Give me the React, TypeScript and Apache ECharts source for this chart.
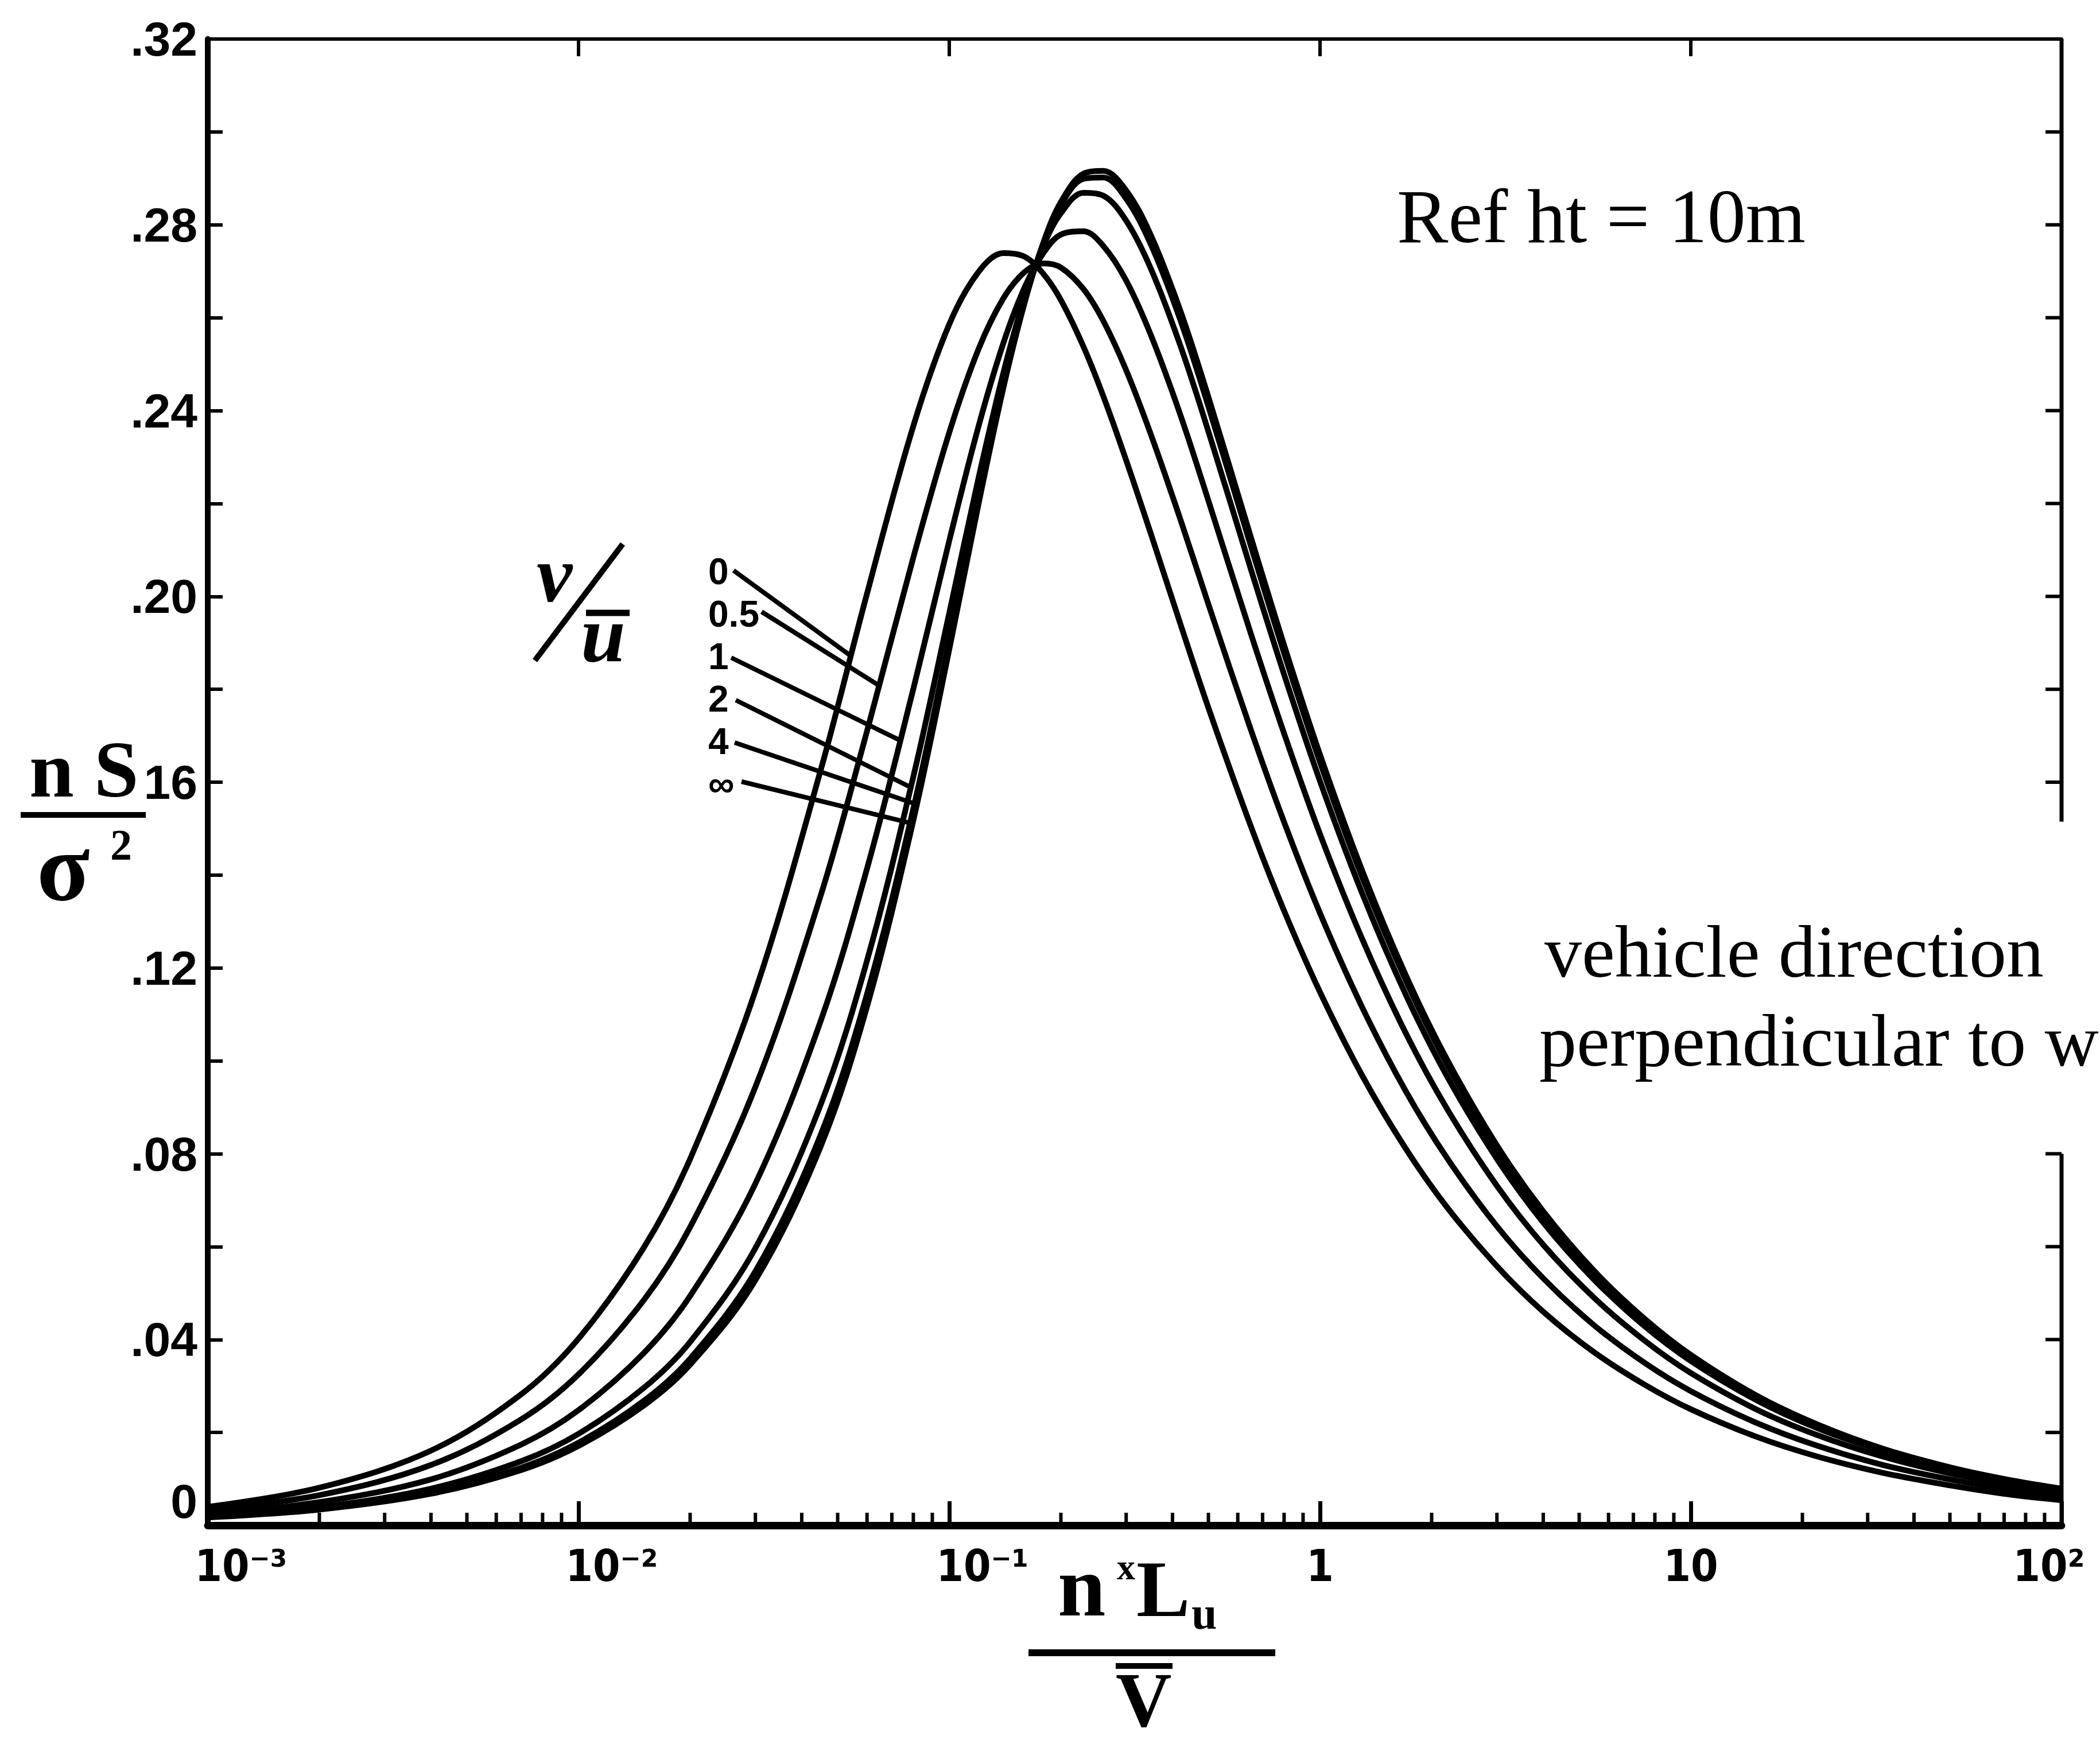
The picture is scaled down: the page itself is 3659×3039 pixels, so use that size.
import React, { useEffect, useRef } from 'react';
import * as echarts from 'echarts';

const WIDTH = 3659;
const HEIGHT = 3039;

// abscissa  n·xLu / V̄  (log scale) at which the curves were read
const freq = [0.001, 0.002, 0.004, 0.007, 0.01, 0.015, 0.02, 0.03, 0.045, 0.06, 0.08, 0.1, 0.12, 0.14, 0.16, 0.18, 0.2, 0.23, 0.26, 0.3, 0.35, 0.42, 0.5, 0.65, 0.8, 1, 1.3, 1.7, 2.2, 3, 4, 5.5, 7.5, 10, 15, 22, 33, 50, 70, 100];

// nS/σ² for each v/u
const nS_v0 = [0.0040, 0.0081, 0.0161, 0.0282, 0.0402, 0.0598, 0.0789, 0.1151, 0.1626, 0.2006, 0.2367, 0.2586, 0.2699, 0.2739, 0.2731, 0.2693, 0.2638, 0.2538, 0.2432, 0.2293, 0.2134, 0.1941, 0.1760, 0.1506, 0.1323, 0.1148, 0.0968, 0.0812, 0.0685, 0.0558, 0.0460, 0.0372, 0.0303, 0.0250, 0.0191, 0.0148, 0.0113, 0.0086, 0.0068, 0.0054];
const nS_v05 = [0.0033, 0.0065, 0.0130, 0.0228, 0.0325, 0.0485, 0.0642, 0.0944, 0.1356, 0.1710, 0.2084, 0.2353, 0.2533, 0.2642, 0.2699, 0.2717, 0.2708, 0.2662, 0.2594, 0.2487, 0.2348, 0.2166, 0.1983, 0.1714, 0.1514, 0.1318, 0.1115, 0.0936, 0.0791, 0.0644, 0.0532, 0.0430, 0.0350, 0.0289, 0.0221, 0.0171, 0.0130, 0.0099, 0.0079, 0.0062];
const nS_v1 = [0.0025, 0.0050, 0.0099, 0.0174, 0.0248, 0.0371, 0.0494, 0.0736, 0.1086, 0.1414, 0.1801, 0.2120, 0.2367, 0.2546, 0.2667, 0.2741, 0.2779, 0.2786, 0.2755, 0.2680, 0.2562, 0.2391, 0.2206, 0.1921, 0.1705, 0.1488, 0.1262, 0.1061, 0.0897, 0.0731, 0.0604, 0.0489, 0.0398, 0.0328, 0.0250, 0.0194, 0.0148, 0.0112, 0.0090, 0.0071];
const nS_v2 = [0.0020, 0.0039, 0.0079, 0.0138, 0.0197, 0.0296, 0.0395, 0.0597, 0.0906, 0.1216, 0.1612, 0.1964, 0.2256, 0.2482, 0.2646, 0.2757, 0.2825, 0.2869, 0.2863, 0.2809, 0.2705, 0.2540, 0.2355, 0.2060, 0.1832, 0.1602, 0.1360, 0.1144, 0.0967, 0.0789, 0.0652, 0.0528, 0.0429, 0.0354, 0.0270, 0.0209, 0.0160, 0.0121, 0.0097, 0.0076];
const nS_v4 = [0.0018, 0.0036, 0.0071, 0.0124, 0.0178, 0.0268, 0.0359, 0.0547, 0.0841, 0.1144, 0.1543, 0.1908, 0.2216, 0.2458, 0.2638, 0.2763, 0.2843, 0.2899, 0.2902, 0.2856, 0.2757, 0.2595, 0.2409, 0.2110, 0.1878, 0.1643, 0.1395, 0.1175, 0.0993, 0.0810, 0.0669, 0.0542, 0.0441, 0.0363, 0.0277, 0.0215, 0.0164, 0.0124, 0.0099, 0.0078];
const nS_vInf = [0.0017, 0.0034, 0.0068, 0.0119, 0.0171, 0.0258, 0.0346, 0.0528, 0.0816, 0.1117, 0.1518, 0.1886, 0.2200, 0.2450, 0.2635, 0.2765, 0.2849, 0.2910, 0.2916, 0.2874, 0.2777, 0.2615, 0.2429, 0.2129, 0.1895, 0.1659, 0.1409, 0.1186, 0.1003, 0.0818, 0.0676, 0.0547, 0.0445, 0.0367, 0.0280, 0.0217, 0.0165, 0.0125, 0.0100, 0.0079];

const curveNames = ['0', '0.5', '1', '2', '4', '∞'];
const curveValues = [nS_v0, nS_v05, nS_v1, nS_v2, nS_v4, nS_vInf];

// where each leader line meets its curve  [f, nS/σ²]
const leaderEnds = [[0.0542, 0.1872], [0.0647, 0.1808], [0.0737, 0.169], [0.0787, 0.1589], [0.0805, 0.1554], [0.0796, 0.1511]];

const yTickLabels = ['0', '', '.04', '', '.08', '', '.12', '', '16', '', '.20', '', '.24', '', '.28', '', '.32'];
const xTickLabels = [['10', '⁻³'], ['10', '⁻²'], ['10', '⁻¹'], ['1', ''], ['10', ''], ['10', '²']];
const rightTicks = [0.02, 0.04, 0.06, 0.08, 0.16, 0.18, 0.2, 0.22, 0.24, 0.26, 0.28, 0.3];
const rightBorderSegments = [[0.32, 0.1515], [0.08, 0]];

const minorTicks: number[] = [];
for (let e = -3; e <= 1; e++) {
  for (let k = 2; k <= 9; k++) minorTicks.push(Number((k * Math.pow(10, e)).toPrecision(3)));
}

const SERIF = '"Liberation Serif", "Times New Roman", serif';
const SANS = '"Liberation Sans", Arial, sans-serif';
const NARROW = '"Liberation Sans Narrow", "DejaVu Sans Condensed", "Liberation Sans", sans-serif';

function txt(text: string, x: number, y: number, font: string, extra: any = {}) {
  return {
    type: 'text',
    x,
    y,
    z: 20,
    silent: true,
    ...extra,
    style: {
      text,
      font,
      fill: '#000',
      textAlign: 'left',
      textVerticalAlign: 'middle',
      align: 'left',
      verticalAlign: 'middle',
    },
  };
}

function seg(x1: number, y1: number, x2: number, y2: number, w: number) {
  return {
    type: 'line',
    z: 20,
    silent: true,
    shape: { x1, y1, x2, y2 },
    style: { stroke: '#000', lineWidth: w, lineCap: 'butt' },
  };
}

const App: React.FC = () => {
  const ref = useRef<HTMLDivElement>(null);

  useEffect(() => {
    const el = ref.current;
    if (!el) return;
    const chart = echarts.init(el, null, { renderer: 'svg', width: WIDTH, height: HEIGHT });

    const xFont = { fontFamily: NARROW, fontSize: 76, fontWeight: 'bold', color: '#000' };

    const option: any = {
      animation: false,
      backgroundColor: '#ffffff',
      grid: { left: 362, right: 67, top: 68, bottom: 381, containLabel: false, outerBoundsMode: 'none' },
      xAxis: [
        {
          type: 'log',
          logBase: 10,
          min: 0.001,
          max: 100,
          position: 'bottom',
          axisLine: { show: true, onZero: false, lineStyle: { color: '#000', width: 13 } },
          axisTick: { show: true, inside: true, length: 42, lineStyle: { color: '#000', width: 7 } },
          minorTick: { show: false },
          splitLine: { show: false },
          axisLabel: {
            show: true,
            showMinLabel: true,
            showMaxLabel: true,
            margin: 32,
            color: '#000',
            formatter: (val: number) => {
              const i = Math.round(Math.log10(val)) + 3;
              const lab = xTickLabels[i];
              if (!lab) return '';
              if (i === 5) return `{r|${lab[0]}${lab[1]}}`;
              if (lab[1]) return `{b|${lab[0]}}{e|${lab[1]}}`;
              return `{m|${lab[0]}}`;
            },
            rich: {
              b: { ...xFont, padding: [0, 0, 0, 116] },
              e: { ...xFont },
              m: { ...xFont },
              r: { ...xFont, padding: [0, 44, 0, 0] },
            },
          },
        },
        {
          type: 'log',
          logBase: 10,
          min: 0.001,
          max: 100,
          position: 'top',
          axisLine: { show: true, onZero: false, lineStyle: { color: '#000', width: 6 } },
          axisTick: { show: true, inside: true, length: 30, lineStyle: { color: '#000', width: 6 } },
          axisLabel: { show: false },
          splitLine: { show: false },
        },
      ],
      yAxis: [
        {
          type: 'value',
          min: 0,
          max: 0.32,
          interval: 0.02,
          position: 'left',
          axisLine: { show: true, onZero: false, lineStyle: { color: '#000', width: 10 } },
          axisTick: { show: true, inside: true, length: 26, lineStyle: { color: '#000', width: 6 } },
          splitLine: { show: false },
          axisLabel: {
            show: true,
            margin: 18,
            color: '#000',
            fontFamily: SANS,
            fontSize: 84,
            fontWeight: 'bold',
            formatter: (val: number) => {
              const i = Math.round(val / 0.02);
              if (i === 0) return '{z|0}';
              return yTickLabels[i] ?? '';
            },
            rich: {
              z: { fontFamily: SANS, fontSize: 84, fontWeight: 'bold', color: '#000', padding: [0, 0, 84, 0] },
            },
          },
        },
      ],
      series: [
        ...curveValues.map((vals, i) => ({
          type: 'line',
          name: 'v/u = ' + curveNames[i],
          data: freq.map((f, j) => [f, vals[j]]),
          symbol: 'none',
          showSymbol: false,
          smooth: 0.35,
          silent: true,
          z: 5,
          lineStyle: { color: '#000', width: 10 },
        })),
        ...rightBorderSegments.map((s, i) => ({
          type: 'line',
          name: 'right frame ' + i,
          data: [[100, s[0]], [100, s[1]]],
          symbol: 'none',
          silent: true,
          clip: false,
          z: 4,
          lineStyle: { color: '#000', width: 7 },
        })),
        {
          type: 'custom',
          name: 'right ticks',
          silent: true,
          clip: false,
          encode: { x: 0, y: 1 },
          data: rightTicks.map((v) => [100, v]),
          renderItem: (params: any, api: any) => {
            const p = api.coord([api.value(0), api.value(1)]);
            return {
              type: 'line',
              shape: { x1: p[0] - 28, y1: p[1], x2: p[0], y2: p[1] },
              style: { stroke: '#000', lineWidth: 6 },
            };
          },
        },
        {
          type: 'custom',
          name: 'minor ticks',
          silent: true,
          clip: false,
          encode: { x: 0, y: 1 },
          data: minorTicks.map((v) => [v, 0]),
          renderItem: (params: any, api: any) => {
            const p = api.coord([api.value(0), api.value(1)]);
            return {
              type: 'line',
              shape: { x1: p[0], y1: p[1], x2: p[0], y2: p[1] - 22 },
              style: { stroke: '#000', lineWidth: 6 },
            };
          },
        },
      ],
    };

    chart.setOption(option);

    const toPx = (p: number[]) => chart.convertToPixel({ gridIndex: 0 } as any, p) as number[];

    const labelFont = `bold 64px ${SANS}`;
    const labelCenters = [996, 1070, 1144, 1218, 1292, 1366];
    const leaderStarts = [[1278, 994], [1327, 1066], [1274, 1146], [1282, 1220], [1280, 1294], [1292, 1362]];

    const graphics: any[] = [];
    // curve labels + leader lines
    curveNames.forEach((name, i) => {
      graphics.push(txt(name, 1234, labelCenters[i], labelFont));
      const e = toPx(leaderEnds[i]);
      graphics.push(seg(leaderStarts[i][0], leaderStarts[i][1], e[0], e[1], 8));
    });

    // v/ū
    graphics.push(txt('v', 935, 1000, `italic bold 140px ${SERIF}`));
    graphics.push(seg(932, 1151, 1085, 948, 10));
    graphics.push(txt('u', 1012, 1104, `italic bold 140px ${SERIF}`));
    graphics.push(seg(1021, 1068, 1097, 1068, 11));

    // annotations
    graphics.push(txt('Ref ht = 10m', 2434, 377, `134px ${SERIF}`));
    graphics.push(txt('vehicle direction', 2691, 1658, `130px ${SERIF}`));
    graphics.push(txt('perpendicular to w', 2682, 1813, `130px ${SERIF}`));

    // y title  nS / σ²
    graphics.push(txt('n S', 51, 1340, `bold 140px ${SERIF}`));
    graphics.push(seg(36, 1420, 254, 1420, 10));
    graphics.push(txt('σ', 64, 1511, `bold 170px ${SERIF}`));
    graphics.push(txt('2', 192, 1472, `bold 76px ${SERIF}`));

    // x title  n xLu / V̄
    graphics.push(txt('n', 1843, 2764, `bold 150px ${SERIF}`));
    graphics.push(txt('x', 1946, 2730, `bold 64px ${SERIF}`));
    graphics.push(txt('L', 1980, 2768, `bold 140px ${SERIF}`));
    graphics.push(txt('u', 2076, 2811, `bold 80px ${SERIF}`));
    graphics.push(seg(1792, 2880, 2222, 2880, 12));
    graphics.push(seg(1944, 2903, 2043, 2903, 10));
    graphics.push(txt('V', 1944, 2962, `bold 135px ${SERIF}`));

    chart.setOption({ graphic: graphics });

    return () => {
      chart.dispose();
    };
  }, []);

  return (
    <div
      ref={ref}
      style={{ position: 'absolute', left: 0, top: 0, width: WIDTH, height: HEIGHT, background: '#fff' }}
    />
  );
};

export default App;
